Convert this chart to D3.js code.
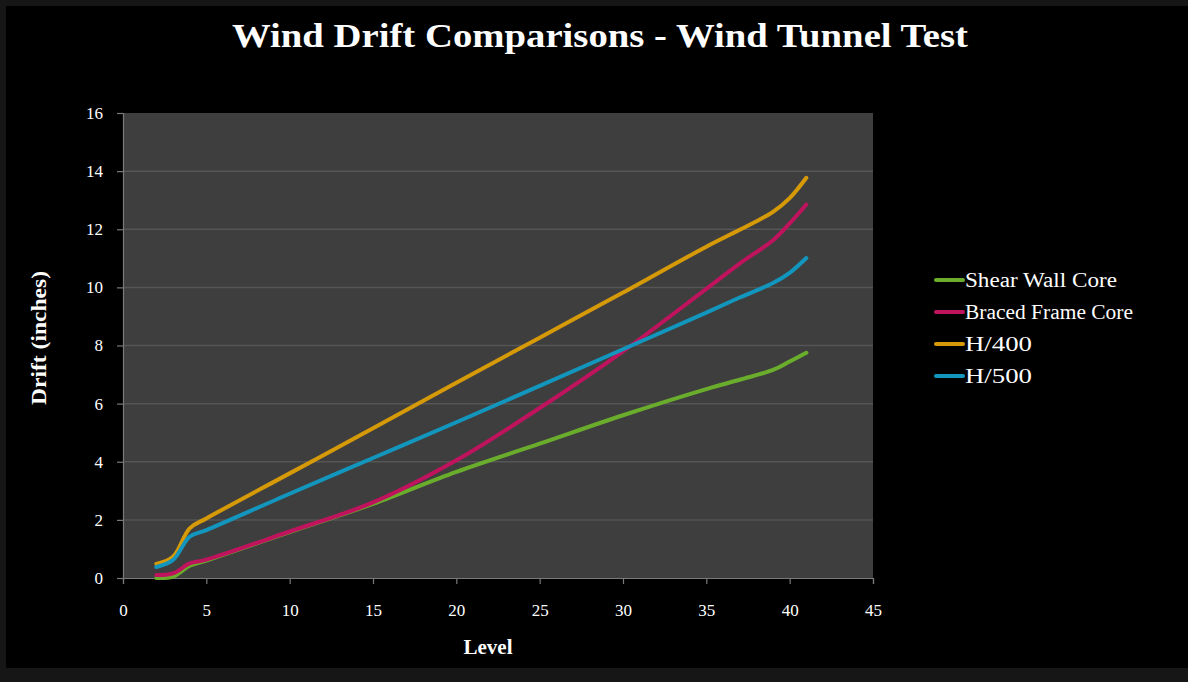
<!DOCTYPE html>
<html><head><meta charset="utf-8">
<script src="https://cdn.jsdelivr.net/npm/d3@7"></script>
<style>
html,body{margin:0;padding:0;background:#161616;}
svg{display:block;}
text{font-family:"Liberation Serif","DejaVu Serif",serif;fill:#fff;}
</style></head>
<body>
<svg id="chart" width="1188" height="682"></svg>
<script>
const levels = [2, 3, 4, 5, 10, 15, 20, 25, 30, 35, 37, 39, 40, 41];
const shearWall = [0, 0.05, 0.42, 0.6, 1.58, 2.55, 3.65, 4.62, 5.6, 6.5, 6.82, 7.16, 7.45, 7.75];
const bracedFrame = [0.1, 0.16, 0.5, 0.63, 1.6, 2.6, 4.05, 5.85, 7.8, 9.95, 10.82, 11.62, 12.2, 12.85];
const h400 = [0.48, 0.73, 1.71, 2.05, 3.6, 5.15, 6.72, 8.27, 9.82, 11.4, 11.98, 12.6, 13.07, 13.77];
const h500 = [0.38, 0.62, 1.42, 1.65, 2.9, 4.13, 5.36, 6.61, 7.87, 9.13, 9.65, 10.15, 10.5, 11.01];
const seriesNames = ["Shear Wall Core", "Braced Frame Core", "H/400", "H/500"];
const seriesColors = ["#6aad2c", "#c0135e", "#d69a08", "#1396bd"];
const xTicks = [0, 5, 10, 15, 20, 25, 30, 35, 40, 45];
const yTicks = [0, 2, 4, 6, 8, 10, 12, 14, 16];

const seriesValues = [shearWall, bracedFrame, h400, h500];
const series = seriesNames.map((name, i) => ({
  name, color: seriesColors[i],
  points: levels.map((l, j) => ({x: l, y: seriesValues[i][j]}))
}));

const svg = d3.select("#chart");
svg.append("rect").attr("x", 6).attr("y", 6).attr("width", 1182).attr("height", 662).attr("fill", "#000");

const plot = {left: 123, right: 873, top: 113, bottom: 578};
const x = d3.scaleLinear().domain([0, 45]).range([plot.left, plot.right]);
const y = d3.scaleLinear().domain([0, 16]).range([plot.bottom, plot.top]);

svg.append("rect").attr("x", plot.left).attr("y", plot.top)
  .attr("width", plot.right - plot.left).attr("height", plot.bottom - plot.top)
  .attr("fill", "#3e3e3e");

// gridlines
svg.append("g").selectAll("line").data(yTicks.filter(d => d > 0 && d < 16)).join("line")
  .attr("x1", plot.left).attr("x2", plot.right)
  .attr("y1", d => y(d)).attr("y2", d => y(d))
  .attr("stroke", "#555").attr("stroke-width", 1.5);

// axes
const yAxis = svg.append("g").attr("transform", `translate(${plot.left},0)`)
  .call(d3.axisLeft(y).tickValues(yTicks).tickSize(6).tickPadding(14).tickFormat(d3.format("d")));
const xAxis = svg.append("g").attr("transform", `translate(0,${plot.bottom})`)
  .call(d3.axisBottom(x).tickValues(xTicks).tickSize(6).tickPadding(20).tickFormat(d3.format("d")));
[yAxis, xAxis].forEach(a => {
  a.attr("font-size", 17).attr("font-family", "Liberation Serif, serif");
  a.select(".domain").attr("stroke", "#7a7a7a").attr("stroke-width", 1.2);
  a.selectAll(".tick line").attr("stroke", "#7a7a7a").attr("stroke-width", 1.2);
  a.selectAll(".tick text").attr("fill", "#fff").attr("font-size", 17);
});

// lines
const line = d3.line().x(d => x(d.x)).y(d => y(d.y)).curve(d3.curveCatmullRom.alpha(0.5));
svg.append("g").selectAll("path").data(series).join("path")
  .attr("d", d => line(d.points))
  .attr("fill", "none").attr("stroke", d => d.color)
  .attr("stroke-width", 4).attr("stroke-linecap", "round").attr("stroke-linejoin", "round");

// title
svg.append("text").attr("x", 600).attr("y", 47).attr("text-anchor", "middle")
  .attr("font-size", 34).attr("font-weight", "bold")
  .attr("textLength", 736).attr("lengthAdjust", "spacingAndGlyphs")
  .text("Wind Drift Comparisons - Wind Tunnel Test");

// axis titles
svg.append("text").attr("x", 488).attr("y", 654).attr("text-anchor", "middle")
  .attr("font-size", 21).attr("font-weight", "bold")
  .attr("textLength", 49).attr("lengthAdjust", "spacingAndGlyphs").text("Level");
svg.append("text").attr("transform", "translate(46,338) rotate(-90)").attr("text-anchor", "middle")
  .attr("font-size", 20).attr("font-weight", "bold")
  .attr("textLength", 134).attr("lengthAdjust", "spacingAndGlyphs").text("Drift (inches)");

// legend
const legendWidths = [152, 168, 67, 67];
const lg = svg.append("g").selectAll("g").data(series).join("g")
  .attr("transform", (d, i) => `translate(936,${280 + i * 32})`);
lg.append("line").attr("x1", 0).attr("x2", 27).attr("y1", 0).attr("y2", 0)
  .attr("stroke", d => d.color).attr("stroke-width", 4).attr("stroke-linecap", "round");
lg.append("text").attr("x", 29).attr("y", 7).attr("font-size", 20)
  .attr("textLength", (d, i) => legendWidths[i]).attr("lengthAdjust", "spacingAndGlyphs")
  .text(d => d.name);
</script>
</body></html>
